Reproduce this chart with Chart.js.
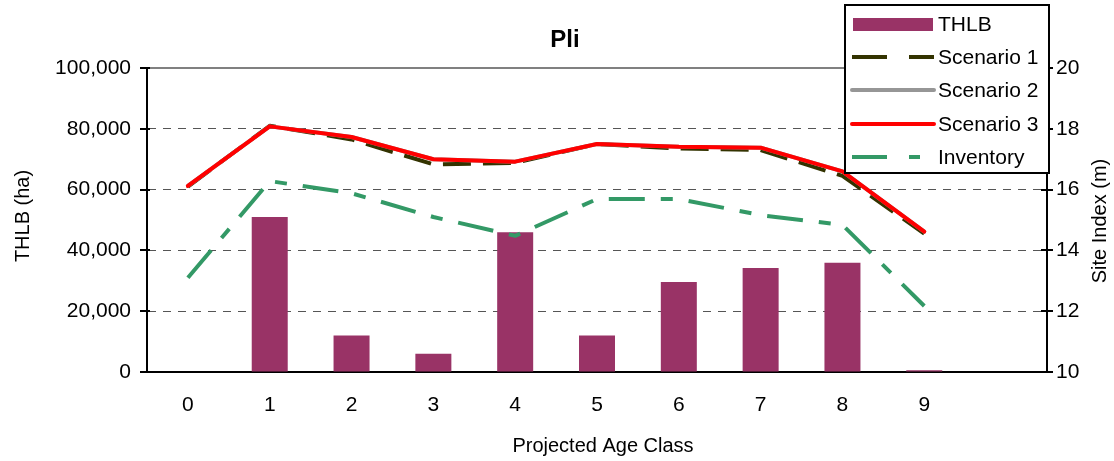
<!DOCTYPE html>
<html>
<head>
<meta charset="utf-8">
<script src="https://cdn.jsdelivr.net/npm/chart.js@4.4.1/dist/chart.umd.min.js"></script>
<style>
  html, body { margin: 0; padding: 0; background: #ffffff; }
  #wrap { width: 1114px; height: 461px; position: relative; }
</style>
</head>
<body>
<div id="wrap"><canvas id="c" width="1114" height="461"></canvas></div>
<script>
// ---- data ----
const categories = ['0', '1', '2', '3', '4', '5', '6', '7', '8', '9', ''];
const thlb = [0, 51000, 12000, 6000, 46000, 12000, 29600, 34200, 35900, 600, null];
const scenario1 = [16.1, 18.1, 17.65, 16.83, 16.88, 17.5, 17.35, 17.3, 16.45, 14.55, null];
const scenario2 = [16.12, 18.08, 17.73, 17.0, 16.92, 17.5, 17.41, 17.38, 16.6, 14.62, null];
const scenario3 = [16.12, 18.08, 17.73, 17.0, 16.92, 17.5, 17.41, 17.38, 16.6, 14.62, null];
const inventory = [13.1, 16.28, 15.88, 15.1, 14.48, 15.69, 15.69, 15.16, 14.84, 12.17, null];
const leftTicks = [0, 20000, 40000, 60000, 80000, 100000];
const rightTicks = [10, 12, 14, 16, 18, 20];

const FONT = 'Liberation Sans, Arial, sans-serif';
const C_BAR = '#993366', C_S1 = '#333300', C_S2 = '#969696', C_S3 = '#ff0000', C_INV = '#339966';

const overlay = {
  id: 'overlay',
  afterDraw(chart) {
    const ctx = chart.ctx;
    const a = chart.chartArea;
    const yL = chart.scales.y, yR = chart.scales.y2;
    ctx.save();
    // top solid gridline
    ctx.strokeStyle = '#808080'; ctx.lineWidth = 2;
    ctx.beginPath(); ctx.moveTo(a.left, yL.getPixelForValue(100000)); ctx.lineTo(a.right, yL.getPixelForValue(100000)); ctx.stroke();
    // tick marks
    ctx.strokeStyle = '#000'; ctx.lineWidth = 2;
    leftTicks.forEach(v => {
      const y = Math.round(yL.getPixelForValue(v));
      ctx.beginPath(); ctx.moveTo(a.left - 7, y); ctx.lineTo(a.left + 3, y); ctx.stroke();
    });
    rightTicks.forEach(v => {
      const y = Math.round(yR.getPixelForValue(v));
      ctx.beginPath(); ctx.moveTo(a.right - 6, y); ctx.lineTo(a.right + 6, y); ctx.stroke();
    });
    // titles
    ctx.fillStyle = '#000';
    ctx.textAlign = 'center'; ctx.textBaseline = 'middle';
    ctx.font = 'bold 24px ' + FONT;
    ctx.fillText('Pli', 565, 40);
    ctx.font = '20px ' + FONT;
    ctx.fillText('Projected Age Class', 603, 446);
    ctx.save(); ctx.translate(23, 216); ctx.rotate(-Math.PI / 2); ctx.fillText('THLB (ha)', 0, 0); ctx.restore();
    ctx.save(); ctx.translate(1100, 221); ctx.rotate(-Math.PI / 2); ctx.fillText('Site Index (m)', 0, 0); ctx.restore();
    // legend
    const lx = 845, ly = 5, lw = 204, lh = 168;
    ctx.fillStyle = '#fff'; ctx.fillRect(lx, ly, lw, lh);
    ctx.strokeStyle = '#000'; ctx.lineWidth = 2; ctx.strokeRect(lx, ly, lw, lh);
    const rows = [
      { t: 'THLB', y: 24, bar: true },
      { t: 'Scenario 1', y: 57, c: C_S1, d: [35, 22] },
      { t: 'Scenario 2', y: 90, c: C_S2, d: [] },
      { t: 'Scenario 3', y: 124, c: C_S3, d: [] },
      { t: 'Inventory', y: 157, c: C_INV, d: [35, 22, 11, 22] }
    ];
    rows.forEach(r => {
      if (r.bar) {
        ctx.fillStyle = C_BAR; ctx.fillRect(853, r.y - 6, 80, 13);
      } else {
        ctx.strokeStyle = r.c; ctx.lineWidth = 4; ctx.setLineDash(r.d);
        ctx.lineCap = r.d.length ? 'butt' : 'round';
        ctx.beginPath(); ctx.moveTo(852, r.y); ctx.lineTo(934, r.y); ctx.stroke();
        ctx.setLineDash([]);
      }
      ctx.fillStyle = '#000'; ctx.textAlign = 'left'; ctx.textBaseline = 'middle';
      ctx.font = '21px ' + FONT;
      ctx.fillText(r.t, 938, r.y + 1);
    });
    ctx.restore();
  }
};

new Chart(document.getElementById('c'), {
  type: 'bar',
  data: {
    labels: categories,
    datasets: [
      { type: 'bar', label: 'THLB', data: thlb, yAxisID: 'y', backgroundColor: C_BAR, borderWidth: 0,
        categoryPercentage: 1.0, barPercentage: 0.44, order: 10 },
      { type: 'line', label: 'Scenario 1', data: scenario1, yAxisID: 'y2', borderColor: C_S1, borderWidth: 4,
        borderDash: [28, 12], pointRadius: 0, tension: 0, fill: false, order: 3, borderJoinStyle: 'round' },
      { type: 'line', label: 'Scenario 2', data: scenario2, yAxisID: 'y2', borderColor: C_S2, borderWidth: 4,
        pointRadius: 0, tension: 0, fill: false, order: 2, borderCapStyle: 'round', borderJoinStyle: 'round' },
      { type: 'line', label: 'Scenario 3', data: scenario3, yAxisID: 'y2', borderColor: C_S3, borderWidth: 4,
        pointRadius: 0, tension: 0, fill: false, order: 1, borderCapStyle: 'round', borderJoinStyle: 'round' },
      { type: 'line', label: 'Inventory', data: inventory, yAxisID: 'y2', borderColor: C_INV, borderWidth: 4,
        borderDash: [36, 16, 12, 16], pointRadius: 0, tension: 0, fill: false, order: 4, borderJoinStyle: 'round' }
    ]
  },
  options: {
    responsive: false,
    animation: false,
    events: [],
    layout: { padding: { top: 68, left: 0, right: 0, bottom: 0 } },
    plugins: { legend: { display: false }, title: { display: false }, tooltip: { enabled: false } },
    scales: {
      x: {
        offset: true,
        grid: { display: false, drawTicks: false },
        border: { display: true, color: '#000', width: 2 },
        ticks: { color: '#000', font: { family: FONT, size: 21 }, padding: 21, maxRotation: 0, autoSkip: false },
        afterFit(s) { s.height = 89; }
      },
      y: {
        position: 'left', min: 0, max: 100000,
        afterBuildTicks(s) { s.ticks = leftTicks.map(v => ({ value: v })); },
        grid: { drawTicks: false, lineWidth: 1,
          color: (ctx) => (ctx.tick && (ctx.tick.value === 0 || ctx.tick.value === 100000)) ? 'rgba(0,0,0,0)' : '#555' },
        border: { display: true, color: '#000', width: 2, dash: [8, 7] },
        ticks: { color: '#000', font: { family: FONT, size: 21 }, padding: 16,
          callback: (v) => Number(v).toLocaleString('en-US') },
        afterFit(s) { s.width = 147; }
      },
      y2: {
        position: 'right', min: 10, max: 20,
        afterBuildTicks(s) { s.ticks = rightTicks.map(v => ({ value: v })); },
        grid: { drawOnChartArea: false, drawTicks: false },
        border: { display: true, color: '#000', width: 2 },
        ticks: { color: '#000', font: { family: FONT, size: 21 }, padding: 9 },
        afterFit(s) { s.width = 67; }
      }
    }
  },
  plugins: [overlay]
});
</script>
</body>
</html>
